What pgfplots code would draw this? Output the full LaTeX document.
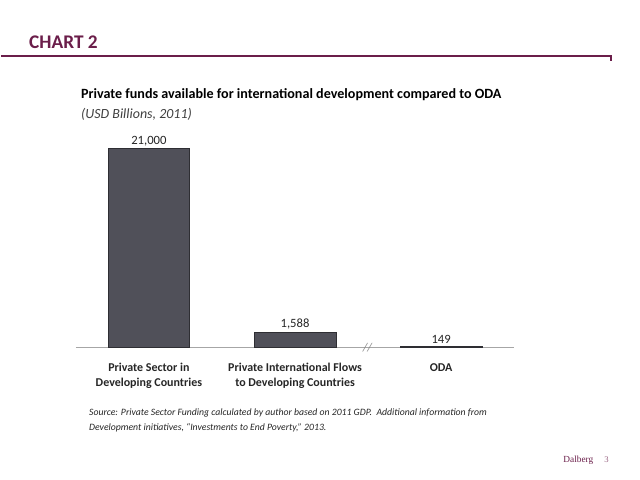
\documentclass[border=0pt]{standalone}
\usepackage{pgfplots}
\pgfplotsset{compat=1.18}
\usepackage{fontspec}
\setmainfont{Carlito}
\newfontfamily\serif{Liberation Serif}
\definecolor{maroon}{HTML}{6B1E4A}
\definecolor{barfill}{HTML}{505059}
\definecolor{bardraw}{HTML}{2E2E33}
\definecolor{axisgray}{HTML}{A6A6A6}
\begin{document}
\begin{tikzpicture}[x=0.75pt,y=-0.75pt]
\fill[white] (0,0) rectangle (640,480);
\node[anchor=west, text=maroon, font=\bfseries\fontsize{14.5}{16}\selectfont, inner sep=0] at (28,42) {CHART 2};
\draw[maroon, line width=1.5pt] (0,56) -- (611,56) -- (611,61);
\node[anchor=west, font=\bfseries\fontsize{10.6}{12}\selectfont, inner sep=0] at (80,95) {Private funds available for international development compared to ODA};
\node[anchor=west, font=\itshape\fontsize{10.5}{12}\selectfont, text=black!75, inner sep=0] at (80,115) {(USD Billions, 2011)};
\begin{axis}[
  at={(56.25pt,-261pt)}, anchor=south west,
  width=329.25pt, height=149.25pt, scale only axis,
  xmin=-0.5, xmax=2.5, ymin=0, ymax=21000,
  hide y axis,
  axis x line*=bottom,
  x axis line style={axisgray, line width=1.2pt},
  xtick={0,1,2},
  xticklabels={{Private Sector in\\Developing Countries},{Private International Flows\\to Developing Countries},{ODA}},
  xticklabel style={align=center, font=\bfseries\fontsize{9}{11.25}\selectfont, text=black!85, yshift=-4pt},
  xtick style={draw=none},
  clip=false,
  ybar, bar width=0.56,
  nodes near coords,
  point meta=explicit symbolic,
  every node near coord/.append style={font=\fontsize{9.5}{11}\selectfont, text=black!85, yshift=-1.5pt},
]
\addplot[fill=barfill, draw=bardraw, line width=0.6pt] coordinates {(0,21000)[21,000] (1,1588)[1,588] (2,149)[149]};
\end{axis}
\node[text=axisgray!80!black, font=\itshape\fontsize{9}{10}\selectfont, inner sep=0] at (367,348) {//};
\node[anchor=west, font=\itshape\fontsize{7.3}{9}\selectfont, text=black!85, inner sep=0] at (88,414) {Source: Private Sector Funding calculated by author based on 2011 GDP.\ \ Additional information from};
\node[anchor=west, font=\itshape\fontsize{7.3}{9}\selectfont, text=black!85, inner sep=0] at (88,428) {Development initiatives, ``Investments to End Poverty,'' 2013.};
\node[anchor=west, text=maroon, font=\serif\fontsize{7}{8}\selectfont, inner sep=0] at (563,461) {Dalberg};
\node[anchor=west, text=maroon!70, font=\serif\fontsize{6.5}{8}\selectfont, inner sep=0] at (604,460) {3};
\end{tikzpicture}
\end{document}
